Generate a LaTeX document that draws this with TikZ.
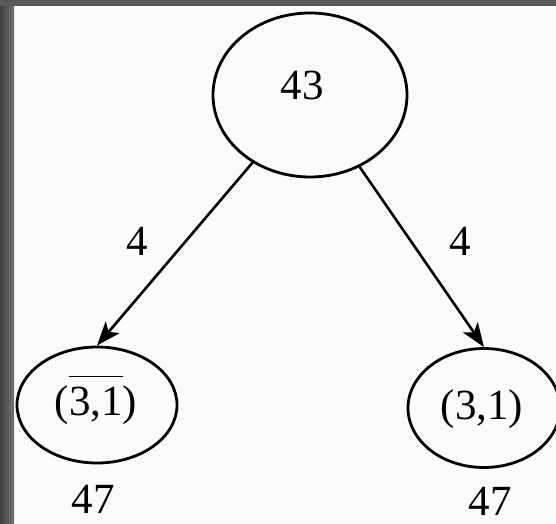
\documentclass[tikz,border=0pt]{standalone}
\usepackage{fontspec}
\setmainfont{Liberation Serif}
\usetikzlibrary{shapes.geometric,arrows.meta}
\begin{document}
\begin{tikzpicture}[x=1pt,y=1pt,
  state/.style={draw=black,line width=2.8pt,ellipse,inner sep=0pt},
  lbl/.style={inner sep=0pt,anchor=base,font=\fontsize{43}{48}\selectfont},
  conn/.style={draw=black,line width=2.6pt,-{Stealth[length=24pt,width=18pt,inset=6pt]}}]
\useasboundingbox (0,0) rectangle (556,523);
\fill[white!97!gray] (0,0) rectangle (556,523);
\shade[left color=black!75,right color=black!55] (0,0) rectangle (14,523);
\fill[black!65] (0,517) rectangle (556,523);
\node[state,minimum width=194pt,minimum height=164pt] (top) at (310,428) {};
\node[lbl] (t43) at (302,423) {43};
\node[state,minimum width=160pt,minimum height=116pt] (L) at (97,118) {};
\node[lbl] (tL) at (96,108) {(\ensuremath{\overline{\mbox{3,1}\rule{0pt}{0.88em}}})};
\node[state,minimum width=152pt,minimum height=119pt] (R) at (484,115) {};
\node[lbl] (tR) at (482,104) {(3,1)};
\draw[conn] (top) -- (L.north);
\draw[conn] (top) -- (R.north);
\node[lbl] (w1) at (137,268) {4};
\node[lbl] (w2) at (460,268) {4};
\node[lbl] (c1) at (93,10) {47};
\node[lbl] (c2) at (490,8) {47};
\end{tikzpicture}
\end{document}
